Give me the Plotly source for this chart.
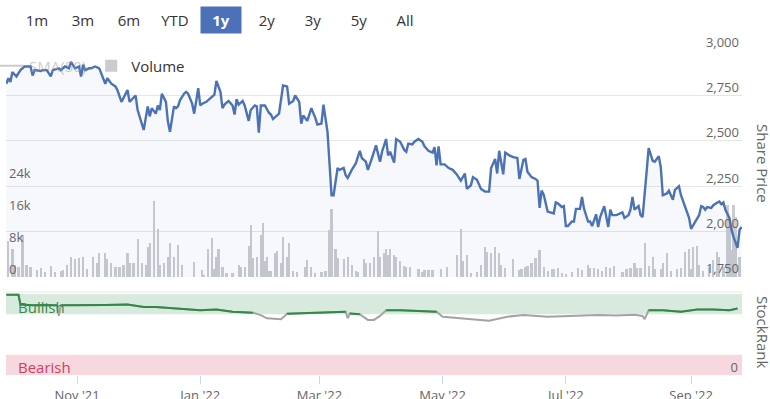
import plotly.graph_objects as go
import pandas as pd

# ---------------- data ----------------
price_dates = [
    "2021-09-27","2021-09-28","2021-09-29","2021-09-30","2021-10-02","2021-10-04","2021-10-06","2021-10-09","2021-10-10","2021-10-11","2021-10-14","2021-10-15","2021-10-17","2021-10-19","2021-10-20","2021-10-23","2021-10-24","2021-10-26","2021-10-28","2021-10-29","2021-10-31",
    "2021-11-02","2021-11-03","2021-11-04","2021-11-05","2021-11-07","2021-11-08","2021-11-10","2021-11-12","2021-11-13","2021-11-15","2021-11-16","2021-11-18","2021-11-20","2021-11-21","2021-11-23","2021-11-24","2021-11-26","2021-11-27","2021-11-29","2021-11-30",
    "2021-12-01","2021-12-02","2021-12-04","2021-12-06","2021-12-07","2021-12-08","2021-12-10","2021-12-11","2021-12-12","2021-12-13","2021-12-15","2021-12-16","2021-12-17","2021-12-19","2021-12-20","2021-12-21","2021-12-22","2021-12-24","2021-12-25","2021-12-26","2021-12-28","2021-12-29","2021-12-31",
    "2022-01-01","2022-01-02","2022-01-04","2022-01-06","2022-01-07","2022-01-08","2022-01-09","2022-01-11","2022-01-12","2022-01-13","2022-01-15","2022-01-17","2022-01-18","2022-01-19","2022-01-20","2022-01-22","2022-01-23","2022-01-25","2022-01-26","2022-01-28","2022-01-29","2022-01-30","2022-01-31",
    "2022-02-02","2022-02-04","2022-02-05","2022-02-06","2022-02-08","2022-02-09","2022-02-11","2022-02-13","2022-02-14","2022-02-16","2022-02-17","2022-02-19","2022-02-20","2022-02-21","2022-02-23","2022-02-24","2022-02-25","2022-02-27","2022-02-28",
    "2022-03-02","2022-03-03","2022-03-05","2022-03-06","2022-03-07","2022-03-08","2022-03-10","2022-03-11","2022-03-13","2022-03-14","2022-03-15","2022-03-17","2022-03-19","2022-03-21","2022-03-22","2022-03-24","2022-03-25","2022-03-27","2022-03-29","2022-03-31",
    "2022-04-01","2022-04-03","2022-04-04","2022-04-05","2022-04-07","2022-04-08","2022-04-10","2022-04-12","2022-04-13","2022-04-14","2022-04-16","2022-04-17","2022-04-19","2022-04-21","2022-04-22","2022-04-24","2022-04-26","2022-04-27","2022-04-28","2022-04-29","2022-04-30",
    "2022-05-02","2022-05-04","2022-05-06","2022-05-08","2022-05-10","2022-05-12","2022-05-13","2022-05-15","2022-05-16","2022-05-17","2022-05-18","2022-05-20","2022-05-22","2022-05-24","2022-05-25","2022-05-27","2022-05-28","2022-05-29","2022-05-31",
    "2022-06-01","2022-06-03","2022-06-05","2022-06-07","2022-06-08","2022-06-10","2022-06-11","2022-06-12","2022-06-14","2022-06-16","2022-06-17","2022-06-18","2022-06-19","2022-06-20","2022-06-22","2022-06-24","2022-06-25","2022-06-26","2022-06-27","2022-06-29","2022-06-30",
    "2022-07-01","2022-07-02","2022-07-04","2022-07-05","2022-07-06","2022-07-08","2022-07-09","2022-07-10","2022-07-12","2022-07-13","2022-07-14","2022-07-16","2022-07-17","2022-07-18","2022-07-20","2022-07-22","2022-07-23","2022-07-24","2022-07-26","2022-07-28","2022-07-29","2022-07-30",
    "2022-08-01","2022-08-02","2022-08-03","2022-08-04","2022-08-06","2022-08-07","2022-08-08","2022-08-10","2022-08-11","2022-08-13","2022-08-14","2022-08-16","2022-08-17","2022-08-18","2022-08-20","2022-08-21","2022-08-23","2022-08-24","2022-08-26","2022-08-27","2022-08-29","2022-08-31",
    "2022-09-01","2022-09-03","2022-09-05","2022-09-06","2022-09-07","2022-09-08","2022-09-09","2022-09-11","2022-09-12","2022-09-14","2022-09-15","2022-09-16","2022-09-17","2022-09-18","2022-09-20","2022-09-21","2022-09-22","2022-09-24","2022-09-25","2022-09-26",
]
price_values = [
    2815,2845,2825,2880,2855,2890,2910,2910,2860,2890,2885,2890,2890,2855,2890,2900,2890,2910,2900,2935,2900,
    2910,2855,2920,2890,2900,2900,2910,2900,2870,2815,2845,2815,2800,2780,2715,2735,2780,2715,2735,2750,
    2670,2635,2560,2690,2635,2680,2650,2695,2670,2760,2715,2605,2550,2690,2680,2690,2725,2760,2770,2760,2705,2650,2790,
    2695,2705,2715,2735,2750,2755,2830,2770,2680,2700,2720,2695,2645,2730,2700,2720,2695,2610,2670,2695,2690,2545,2695,
    2695,2655,2645,2620,2640,2650,2805,2800,2705,2720,2750,2715,2595,2640,2610,2650,2680,2625,2590,
    2595,2700,2550,2365,2200,2200,2350,2340,2350,2310,2295,2340,2375,2445,2405,2385,2340,2405,2475,2385,
    2440,2510,2420,2440,2380,2510,2495,2450,2440,2485,2480,2495,2510,2495,2470,2445,2435,2465,2365,2470,2370,
    2370,2350,2340,2315,2280,2320,2235,2255,2300,2290,2285,2235,2220,2220,2350,2400,2320,2445,2315,
    2435,2420,2410,2405,2290,2395,2400,2330,2300,2290,2280,2130,2225,2205,2110,2105,2100,2160,2155,2135,2140,
    2030,2030,2055,2055,2125,2125,2190,2125,2055,2055,2030,2095,2025,2080,2140,2025,2120,2090,2090,2100,2105,2075,
    2090,2120,2190,2120,2140,2090,2080,2330,2460,2390,2385,2415,2355,2200,2210,2225,2175,2230,2250,2200,2135,2075,
    2015,2055,2090,2140,2135,2120,2135,2130,2145,2160,2165,2150,2160,2120,2075,2010,1970,1910,2010,2025,
]

volume_dates = [
    "2021-09-28","2021-09-30","2021-10-01","2021-10-03","2021-10-05","2021-10-07","2021-10-09","2021-10-12","2021-10-14","2021-10-16","2021-10-19","2021-10-21","2021-10-24","2021-10-25","2021-10-27","2021-10-29","2021-10-31",
    "2021-11-02","2021-11-04","2021-11-06","2021-11-09","2021-11-11","2021-11-12","2021-11-15","2021-11-16","2021-11-18","2021-11-20","2021-11-22","2021-11-24","2021-11-26","2021-11-27","2021-11-29",
    "2021-12-01","2021-12-03","2021-12-05","2021-12-06","2021-12-07","2021-12-09","2021-12-11","2021-12-12","2021-12-14","2021-12-16","2021-12-17","2021-12-19","2021-12-21","2021-12-23","2021-12-29",
    "2022-01-02","2022-01-03","2022-01-05","2022-01-07","2022-01-08","2022-01-09","2022-01-10","2022-01-12","2022-01-14","2022-01-17","2022-01-20","2022-01-21","2022-01-23","2022-01-25","2022-01-26","2022-01-27","2022-01-29","2022-01-31",
    "2022-02-01","2022-02-02","2022-02-03","2022-02-04","2022-02-05","2022-02-07","2022-02-08","2022-02-10","2022-02-11","2022-02-13","2022-02-14","2022-02-16","2022-02-18","2022-02-22","2022-02-23","2022-02-25","2022-02-27",
    "2022-03-02","2022-03-04","2022-03-06","2022-03-07","2022-03-09","2022-03-10","2022-03-13","2022-03-15","2022-03-17","2022-03-19","2022-03-20","2022-03-23","2022-03-24","2022-03-26","2022-03-28","2022-03-30","2022-03-31",
    "2022-04-02","2022-04-03","2022-04-04","2022-04-05","2022-04-07","2022-04-08","2022-04-10","2022-04-12","2022-04-13","2022-04-15","2022-04-19","2022-04-21","2022-04-22","2022-04-24","2022-04-26","2022-04-30",
    "2022-05-03","2022-05-08","2022-05-10","2022-05-11","2022-05-13","2022-05-15","2022-05-18","2022-05-20","2022-05-22","2022-05-23","2022-05-25","2022-05-27","2022-05-29","2022-05-30",
    "2022-06-01","2022-06-05","2022-06-08","2022-06-09","2022-06-11","2022-06-12","2022-06-14","2022-06-16","2022-06-18","2022-06-20","2022-06-22","2022-06-24","2022-06-25","2022-06-27","2022-06-29",
    "2022-07-01","2022-07-04","2022-07-07","2022-07-09","2022-07-12","2022-07-13","2022-07-15","2022-07-17","2022-07-19","2022-07-21","2022-07-23","2022-07-25","2022-07-29","2022-07-31",
    "2022-08-02","2022-08-04","2022-08-05","2022-08-07","2022-08-09","2022-08-11","2022-08-13","2022-08-14","2022-08-17","2022-08-18","2022-08-20","2022-08-22","2022-08-25","2022-08-27","2022-08-29","2022-08-31",
    "2022-09-01","2022-09-02","2022-09-04","2022-09-05","2022-09-07","2022-09-10","2022-09-12","2022-09-14","2022-09-15","2022-09-17","2022-09-19","2022-09-20","2022-09-21","2022-09-22","2022-09-23","2022-09-25",
]
volume_thousands = [
    9,7,3,2.5,10.5,3,2.5,1.7,2.2,1.2,2.7,1.2,1.5,1.7,3,5,4.5,
    4.7,5,2,5,3.5,6,6,4.5,3.5,2.5,2.5,3,6,3.5,3.5,
    9.5,3.5,3,7.5,8.5,19,12,3,3.5,5,8.5,5,8,3,3.7,
    1.7,0.5,7,9.7,2,5,7,2.5,1,1,3,2.5,2.5,7.7,13,4.7,5,10.5,
    13.5,4,5,1.5,1.5,6,6.5,3.5,10,5,8.5,1.5,1.2,2.5,4.2,2.5,1,
    1.2,1.5,11.7,17,7,4.7,4.5,5,3,1.5,1.2,4.5,3.5,3.5,5,11.5,5,
    6,7,5.5,7,5.5,5,4,2.8,2.5,2.5,2,1.2,1.7,1.7,1.7,2,
    2.5,5.5,12,4,5.5,1,1.2,3,7.5,6.3,6,7.5,6,3,
    2.2,4.5,1.7,2,2.5,2.8,3.5,4.7,6.7,2.5,1.5,2,2,2.3,1,
    0.8,1.2,2.2,1.8,3,2.2,2.3,2,1.5,2.5,2.2,2.8,1.2,2,
    2.2,3.5,2.2,2.2,8.5,2.8,5,2,2,3.5,6,1.5,2,2.2,6.3,7,
    2,7.5,7.7,3,1.5,2.5,4.2,6.3,5,2.5,18,12.5,6.7,18,15,5,
]

rank_dates = [
    "2021-09-27","2021-10-03","2021-10-04","2021-10-10","2021-10-16","2021-10-22","2021-10-23","2021-10-24","2021-10-31",
    "2021-11-07","2021-11-15","2021-11-26","2021-12-04","2021-12-10","2021-12-16","2021-12-23",
    "2022-01-01","2022-01-09","2022-01-17","2022-01-27","2022-01-31","2022-02-03","2022-02-10","2022-02-13","2022-02-19","2022-02-28",
    "2022-03-08","2022-03-14","2022-03-15","2022-03-16","2022-03-21","2022-03-25","2022-03-28","2022-03-31",
    "2022-04-03","2022-04-10","2022-04-19","2022-04-28","2022-05-01","2022-05-11","2022-05-19","2022-05-24",
    "2022-06-02","2022-06-10","2022-06-22","2022-07-08","2022-07-17","2022-07-26","2022-08-04","2022-08-08","2022-08-09","2022-08-11",
    "2022-08-18","2022-08-27","2022-09-04","2022-09-12","2022-09-20","2022-09-24",
]
rank_values = [
    99,99,87,86,86.5,86,73,86,86,
    86,86.5,87,84,84,83,82,
    80,81,78,77,74,70,69,75.5,76,77,
    78,78,70,76,75,68,68,73,
    80,80,79,78,72,70,68,67,
    72,74,72,73,74,73.5,74.5,73,69,80,
    80,78,81,81,80,82,
]

bullish_zone = (75, 100)
bearish_zone = (0, 25)

range_buttons = ["1m", "3m", "6m", "YTD", "1y", "2y", "3y", "5y", "All"]
active_button = "1y"

volume_ticks = [0, 8, 16, 24]
volume_tick_labels = ["0", "8k", "16k", "24k"]

# SMA(50) of the price (hidden in the chart, only its legend entry shows)
sma50 = pd.Series(price_values, dtype=float).rolling(50).mean().tolist()

# ---------------- style ----------------
FONT = "Open Sans"
BLUE = "#4b72b5"
GRID = "#e6e6e6"
LABEL = "#666666"

W, H = 770, 399
ML, MR, MT, MB = 6, 28, 50, 24
plot_w = W - ML - MR
plot_h = H - MT - MB

def px_x(px):
    return (px - ML) / plot_w

def px_y(py):
    return (H - MB - py) / plot_h

price_dom = [px_y(277), 1.0]
rank_dom = [0.0, px_y(292)]

fig = go.Figure()

fig.add_trace(go.Bar(
    x=volume_dates, y=volume_thousands, name="Volume", yaxis="y",
    marker=dict(color="#cbcbd0", line=dict(width=0)),
    width=86400000 * 1.1, legendrank=2, hoverinfo="skip",
))
fig.add_trace(go.Scatter(
    x=price_dates, y=sma50, name="<span style='color:#9a9a9a'>SMA(50)</span>", yaxis="y2",
    mode="lines", line=dict(color="#9a9a9a", width=2), visible="legendonly", legendrank=1,
))
fig.add_trace(go.Scatter(
    x=price_dates, y=price_values, name="Share Price", yaxis="y2", mode="lines",
    line=dict(color=BLUE, width=2.4), fill="tozeroy", fillcolor="rgba(75,114,181,0.05)",
    showlegend=False,
))
fig.add_trace(go.Scatter(
    x=rank_dates, y=rank_values, yaxis="y3", mode="lines",
    line=dict(color="#a3a3a3", width=2), showlegend=False,
))
green_vals = [v if v >= bullish_zone[0] else None for v in rank_values]
fig.add_trace(go.Scatter(
    x=rank_dates, y=green_vals, yaxis="y3", mode="lines", connectgaps=False,
    line=dict(color="#2f8a46", width=2), showlegend=False,
))

shapes = [
    dict(type="rect", xref="x domain", x0=0, x1=1, yref="y3", y0=bullish_zone[0], y1=bullish_zone[1],
         fillcolor="#d7eadd", line=dict(width=0), layer="below"),
    dict(type="rect", xref="x domain", x0=0, x1=1, yref="y3", y0=bearish_zone[0], y1=bearish_zone[1],
         fillcolor="#f6d8de", line=dict(width=0), layer="below"),
    dict(type="line", xref="x domain", x0=0, x1=1, yref="y3 domain", y0=1, y1=1,
         line=dict(color=GRID, width=1), layer="below"),
]

annotations = []
for i, lab in enumerate(range_buttons):
    cx = 37 + 46 * i
    active = lab == active_button
    annotations.append(dict(
        xref="paper", yref="paper", x=px_x(cx), y=px_y(20), showarrow=False,
        text=f"<b>{lab}</b>" if active else lab,
        font=dict(family=FONT, size=15, color="white" if active else "#333333"),
        bgcolor="#4b72b8" if active else "rgba(0,0,0,0)",
        width=38, height=24, borderpad=1, xanchor="center", yanchor="middle",
    ))

annotations += [
    dict(xref="paper", yref="y3", x=px_x(16), y=84, text="Bullish", showarrow=False,
         xanchor="left", yanchor="middle", font=dict(family=FONT, size=15, color="#3a8a4c")),
    dict(xref="paper", yref="y3", x=px_x(16), y=10, text="Bearish", showarrow=False,
         xanchor="left", yanchor="middle", font=dict(family=FONT, size=15, color="#d0405e")),
    dict(xref="paper", yref="paper", x=1, xshift=21, y=px_y(163), text="Share Price", showarrow=False,
         textangle=90, xanchor="center", yanchor="middle", font=dict(family=FONT, size=15, color=LABEL)),
    dict(xref="paper", yref="paper", x=1, xshift=21, y=px_y(332), text="StockRank", showarrow=False,
         textangle=90, xanchor="center", yanchor="middle", font=dict(family=FONT, size=15, color=LABEL)),
]

tickfont = dict(family=FONT, size=13, color=LABEL)

fig.update_layout(
    width=W, height=H,
    margin=dict(l=ML, r=MR, t=MT, b=MB, autoexpand=False),
    paper_bgcolor="white", plot_bgcolor="white",
    font=dict(family=FONT, size=13, color="#333333"),
    showlegend=True,
    legend=dict(orientation="h", x=px_x(-11), y=px_y(66), xanchor="left", yanchor="middle",
                bgcolor="rgba(0,0,0,0)", font=dict(family=FONT, size=15, color="#333333"),
                itemwidth=30, traceorder="normal"),
    bargap=0,
    xaxis=dict(
        type="date", anchor="y3",
        range=["2021-09-26 20:00", "2022-09-26 05:00"],
        tick0="2021-11-01", dtick="M2", tickformat="%b '%y",
        ticks="outside", ticklen=8, tickcolor="#ccd6eb", tickwidth=1,
        showgrid=False, zeroline=False, showline=False,
        tickfont=tickfont, automargin=False,
    ),
    yaxis=dict(
        domain=price_dom, range=[0, 56.75], side="left",
        tickvals=volume_ticks, ticktext=volume_tick_labels,
        ticklabelposition="inside", ticklabelshift=-8, ticklabelstandoff=0,
        ticklabeloverflow="allow",
        showgrid=False, zeroline=False, showline=False, ticks="",
        tickfont=tickfont, automargin=False, fixedrange=True,
    ),
    yaxis2=dict(
        overlaying="y", side="right", anchor="x", range=[1749, 3001], dtick=250, tick0=1750,
        tickformat=",d", ticklabelposition="inside", ticklabelshift=-8, ticklabelstandoff=0,
        ticklabeloverflow="allow",
        showgrid=True, gridcolor=GRID, gridwidth=1, zeroline=False, showline=False, ticks="",
        tickfont=tickfont, automargin=False,
    ),
    yaxis3=dict(
        domain=rank_dom, anchor="x", range=[0, 102.5], side="right",
        tickvals=[0], ticktext=["0"], ticklabelposition="inside", ticklabelshift=-8, ticklabelstandoff=1,
        ticklabeloverflow="allow",
        showgrid=False, zeroline=False, showline=False, ticks="",
        tickfont=tickfont, automargin=False,
    ),
    shapes=shapes,
    annotations=annotations,
)

fig.write_html("out.html", config={"displayModeBar": False},
               post_script="document.body.style.margin='0';")
